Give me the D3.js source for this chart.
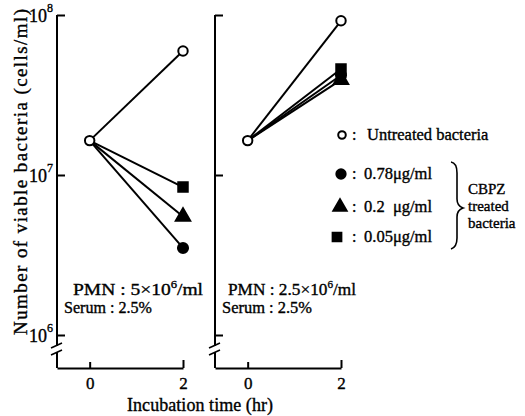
<!DOCTYPE html>
<html>
<head>
<meta charset="utf-8">
<script src="https://cdn.jsdelivr.net/npm/d3@7"></script>
<style>
  body { margin: 0; background: #fff; }
  svg text { font-family: "Liberation Serif", "Times New Roman", serif; fill: #000; stroke: #000; stroke-width: 0.35; }
  .axis path, .axis line { stroke: #000; stroke-width: 2; }
</style>
</head>
<body>
<div id="chart"></div>
<script>
var times = [0, 2];
var seriesNames = ["untreated", "c078", "c02", "c005"];
var legendLabels = ["Untreated bacteria", "0.78\u03bcg/ml", "0.2  \u03bcg/ml", "0.05\u03bcg/ml"];
var yTickValues = [1e6, 1e7, 1e8];
var yTickExp = ["6", "7", "8"];

// cells/ml at 0 and 2 hr
var leftUntreated = [1.64e7, 5.95e7];
var leftC078 = [1.64e7, 3.5e6];
var leftC02 = [1.64e7, 5.5e6];
var leftC005 = [1.64e7, 8.4e6];

var rightUntreated = [1.64e7, 9.2e7];
var rightC078 = [1.64e7, 4.2e7];
var rightC02 = [1.64e7, 3.93e7];
var rightC005 = [1.64e7, 4.6e7];

var width = 525, height = 416;
var axisBottomY = 368;

var svg = d3.select("#chart").append("svg")
    .attr("width", width)
    .attr("height", height);

var y = d3.scaleLog()
    .domain([1e6, 1e8])
    .range([335, 15]);

var x = d3.scaleLinear()
    .domain([-0.7, 2])
    .range([0, 126]);

var symbolFor = {
  untreated: {type: d3.symbolCircle, size: 70, fill: "#fff"},
  c078: {type: d3.symbolCircle, size: 80, fill: "#000"},
  c02: {type: d3.symbolTriangle, size: 90, fill: "#000"},
  c005: {type: d3.symbolSquare, size: 90, fill: "#000"}
};

function drawPanel(left, data, showLabels, note) {
  var g = svg.append("g")
      .attr("transform", "translate(" + left + ",0)");

  // y axis ticks
  var yAxis = d3.axisLeft(y)
      .tickValues(yTickValues)
      .tickSizeInner(-8)
      .tickSizeOuter(0)
      .tickPadding(10)
      .tickFormat(function() { return showLabels ? "10" : ""; });

  var ya = g.append("g")
      .attr("class", "axis")
      .attr("font-family", null)
      .call(yAxis);
  ya.select(".domain").remove();
  ya.selectAll("text")
      .attr("font-size", 18)
      .attr("dy", "0.35em")
      .each(function(d, i) {
        if (!showLabels) return;
        d3.select(this).append("tspan")
            .attr("font-size", 12)
            .attr("dy", "-0.8em")
            .text(yTickExp[i]);
      })
      .attr("dx", 6);

  // y axis line with break
  g.append("path")
      .attr("d", "M0," + y(1e8) + "V346M0,352V" + axisBottomY)
      .attr("stroke", "#000")
      .attr("stroke-width", 2)
      .attr("fill", "none");
  g.append("path")
      .attr("d", "M-6,348L5,343M-6,355L5,350")
      .attr("stroke", "#000")
      .attr("stroke-width", 1.6)
      .attr("fill", "none");

  // x axis
  var xa = g.append("g")
      .attr("class", "axis")
      .attr("font-family", null)
      .attr("transform", "translate(0," + axisBottomY + ")")
      .call(d3.axisBottom(x)
        .tickValues(times)
        .tickSizeInner(-6)
        .tickSizeOuter(0)
        .tickPadding(9)
        .tickFormat(d3.format("d")));
  xa.selectAll("text")
      .attr("font-size", 17);
  xa.select(".tick:last-of-type line").attr("y2", -8);

  var line = d3.line()
      .x(function(d) { return x(d.t); })
      .y(function(d) { return y(d.v); });

  // lines
  seriesNames.forEach(function(name, k) {
    var pts = times.map(function(t, i) { return {t: t, v: data[k][i]}; });
    g.append("path")
        .datum(pts)
        .attr("d", line)
        .attr("fill", "none")
        .attr("stroke", "#000")
        .attr("stroke-width", 2);
  });

  // markers
  for (var k = seriesNames.length - 1; k >= 0; k--) {
    var s = symbolFor[seriesNames[k]];
    times.forEach(function(t, i) {
      if (i === 0 && k !== 0) return;
      g.append("path")
          .attr("d", d3.symbol().type(s.type).size(s.size)())
          .attr("transform", "translate(" + x(t) + "," + y(data[k][i]) + ")")
          .attr("fill", s.fill)
          .attr("stroke", "#000")
          .attr("stroke-width", 2);
    });
  }

  // condition note
  var t1 = g.append("text")
      .attr("x", note.pmnX)
      .attr("y", 295)
      .attr("font-size", 17)
      .attr("textLength", note.pmnW)
      .attr("lengthAdjust", "spacingAndGlyphs");
  t1.append("tspan").text("PMN : " + note.pmn + "\u00d710");
  t1.append("tspan").attr("font-size", 11).attr("dy", -7).text("6");
  t1.append("tspan").attr("dy", 7).text("/ml");

  g.append("text")
      .attr("x", 7)
      .attr("y", 313)
      .attr("font-size", 16)
      .attr("textLength", note.serumW)
      .attr("lengthAdjust", "spacingAndGlyphs")
      .text("Serum : 2.5%");
}

drawPanel(57, [leftUntreated, leftC078, leftC02, leftC005], true, {pmn: "5", pmnX: 16, pmnW: 130, serumW: 88});
drawPanel(215, [rightUntreated, rightC078, rightC02, rightC005], false, {pmn: "2.5", pmnX: 13, pmnW: 128, serumW: 90});

// legend
var legendY = [135, 174, 207, 237];
var legendX = [342, 341, 340, 337];
var lg = svg.append("g");
seriesNames.forEach(function(name, i) {
  var s = symbolFor[name];
  lg.append("path")
      .attr("d", d3.symbol().type(s.type).size(i === 0 ? 45 : s.size * 0.85)())
      .attr("transform", "translate(" + legendX[i] + "," + legendY[i] + ")")
      .attr("fill", s.fill)
      .attr("stroke", "#000")
      .attr("stroke-width", 2);
  lg.append("text")
      .attr("x", 352)
      .attr("y", legendY[i] + 5)
      .attr("font-size", 16)
      .text(":");
  lg.append("text")
      .attr("x", i === 0 ? 367 : 364)
      .attr("y", legendY[i] + 5)
      .attr("font-size", 16.5)
      .attr("xml:space", "preserve")
      .text(legendLabels[i]);
});

// brace
lg.append("path")
    .attr("d", "M451,162Q457,163 457,173L457,199Q457,206 463,208Q457,210 457,217L457,238Q457,247 451,249")
    .attr("fill", "none")
    .attr("stroke", "#000")
    .attr("stroke-width", 1.6);

["CBPZ", "treated", "bacteria"].forEach(function(s, i) {
  lg.append("text")
      .attr("x", 468)
      .attr("y", [194, 211, 228][i])
      .attr("font-size", 15)
      .text(s);
});

// axis titles
svg.append("text")
    .attr("transform", "translate(27,172) rotate(-90)")
    .attr("text-anchor", "middle")
    .attr("font-size", 19)
    .attr("textLength", 326)
    .attr("lengthAdjust", "spacing")
    .text("Number of viable bacteria (cells/ml)");

svg.append("text")
    .attr("x", 200)
    .attr("y", 411)
    .attr("text-anchor", "middle")
    .attr("font-size", 18)
    .attr("textLength", 146)
    .attr("lengthAdjust", "spacing")
    .text("Incubation time (hr)");
</script>
</body>
</html>
